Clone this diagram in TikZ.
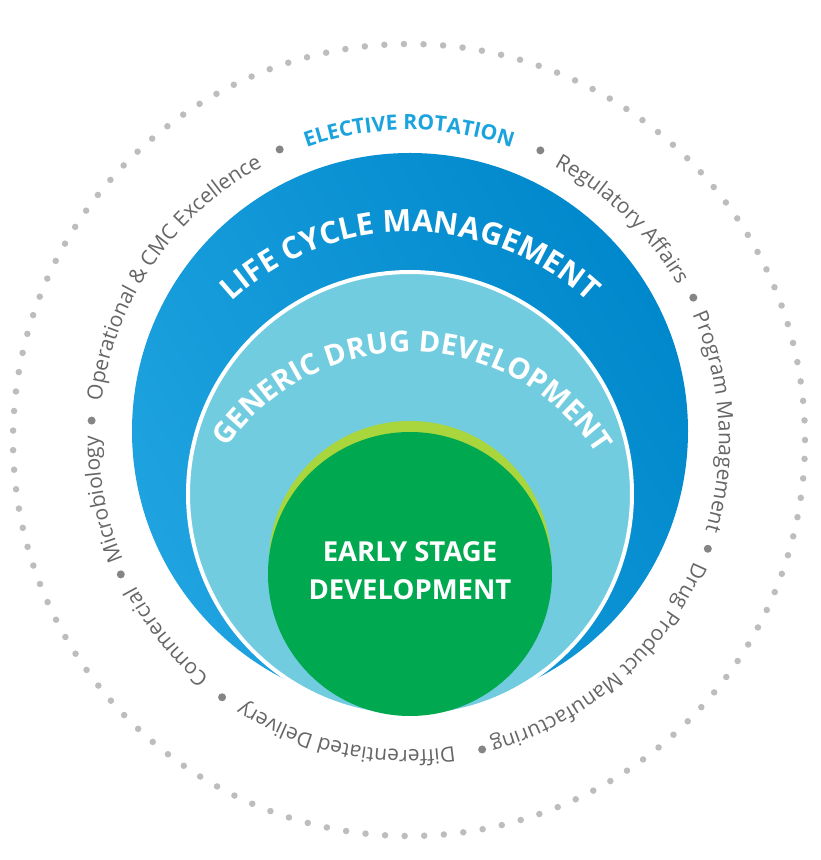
\documentclass[tikz,border=0pt]{standalone}
\usepackage{fontspec}
\setmainfont{Open Sans}
\usetikzlibrary{decorations.text,calc}
\definecolor{bluedark}{HTML}{0088CC}
\definecolor{bluelight}{HTML}{1FA3E0}
\definecolor{lblue}{HTML}{72CCDF}
\definecolor{lime}{HTML}{A8D63C}
\definecolor{dgreen}{HTML}{00A84F}
\definecolor{elect}{HTML}{1AA3DD}
\definecolor{txtgray}{HTML}{666666}
\definecolor{dotgray}{HTML}{BDBDBD}
\begin{document}
\begin{tikzpicture}[x=1pt,y=1pt,
  outer/.style={decorate,decoration={text along path,text align=center,
    text color=txtgray,text={|\fontsize{21}{21}\selectfont|#1}}},
  sep/.style={fill=txtgray!80,draw=none}]
\useasboundingbox (0,0) rectangle (820,860);
\fill[white] (0,0) rectangle (820,860);
\coordinate (C0) at (409,420);
\coordinate (CB) at (410,429);
\coordinate (CL) at (410,366);
\coordinate (CG) at (410,286);
\coordinate (CM) at (410,298);
% outer dotted circle
\draw[dotgray,line width=6.5,dash pattern=on 0pt off 19.6pt,line cap=round] (C0) circle[radius=396];
% circles
\shade[left color=bluelight,right color=bluedark,shading angle=120] (CB) circle[radius=278];
\fill[lblue,draw=white,line width=4] (CL) circle[radius=222];
\fill[lime] (CM) circle[radius=141];
\fill[dgreen] (CG) circle[radius=142];
% curved titles
\path[decorate,decoration={text along path,text align=center,text color=white,
  text={|\bfseries\fontsize{30.5}{30.5}\selectfont|LIFE CYCLE MANAGEMENT}}]
  ($(CL)+(150:262)$) arc[start angle=150,end angle=30,radius=262];
\path[decorate,decoration={text along path,text align=center,text color=white,
  text={|\bfseries\fontsize{29}{29}\selectfont|GENERIC DRUG DEVELOPMENT}}]
  ($(CG)+(155:222)$) arc[start angle=155,end angle=23,radius=222];
\node[white,font=\bfseries\fontsize{27.5}{38}\selectfont,align=center] (es) at (410,289) {EARLY STAGE\\DEVELOPMENT};
% outer ring labels
\path[decorate,decoration={text along path,text align=center,text color=elect,
  text={|\bfseries\fontsize{21}{21}\selectfont|ELECTIVE ROTATION}}]
  ($(C0)+(120:310)$) arc[start angle=120,end angle=60,radius=310];
\path[outer={Regulatory Affairs}] ($(C0)+(80:310)$) arc[start angle=80,end angle=12,radius=310];
\path[outer={Program Management}] ($(C0)+(38:310)$) arc[start angle=38,end angle=-31,radius=310];
\path[outer={Drug Product Manufacturing}] ($(C0)+(-5:310)$) arc[start angle=-5,end angle=-93,radius=310];
\path[outer={Differentiated Delivery}] ($(C0)+(-67:310)$) arc[start angle=-67,end angle=-137,radius=310];
\path[outer={Commercial}] ($(C0)+(-120:310)$) arc[start angle=-120,end angle=-162,radius=310];
\path[outer={Microbiology}] ($(C0)+(-150:310)$) arc[start angle=-150,end angle=-188,radius=310];
\path[outer={Operational {\&} CMC Excellence}] ($(C0)+(190:310)$) arc[start angle=190,end angle=101,radius=310];
\foreach \a in {65.6,26.6,-20,-76.7,-126,-155,176.5,114}
  \fill[sep] ($(C0)+(\a:318)$) circle[radius=4];
\end{tikzpicture}
\end{document}
